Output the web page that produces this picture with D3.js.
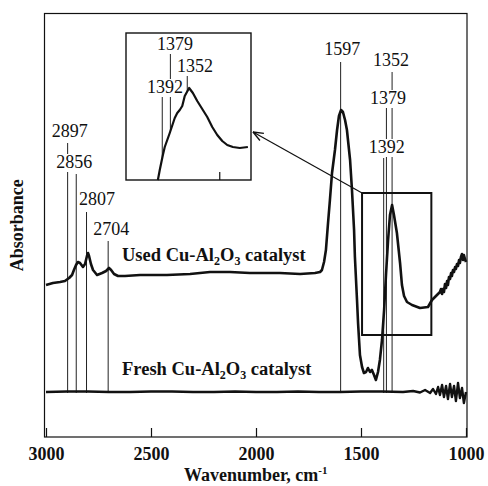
<!DOCTYPE html>
<html><head><meta charset="utf-8">
<script src="https://cdn.jsdelivr.net/npm/d3@7"></script>
<style>body{margin:0;background:#fff} svg{display:block} text{font-family:"Liberation Serif","Times New Roman",serif;fill:#111}</style>
</head><body>
<svg id="c" width="488" height="486"></svg>
<script>
// ---------- data ----------
const xTicks = [3000, 2500, 2000, 1500, 1000];
const usedWn = [3000,2967,2933,2910,2890,2876,2867,2857,2848,2838,
 2824,2814,2805,2800,2795,2786,2776,2757,2733,2714,
 2700,2690,2676,2657,2624,2552,2424,2314,2219,2124,
 2029,1886,1790,1719,1695,1686,1676,1667,1657,1648,
 1638,1624,1614,1605,1595,1586,1576,1567,1552,1543,
 1533,1529,1519,1514,1505,1495,1486,1476,1467,1457,
 1448,1438,1429,1419,1410,1400,1390,1381,1371,1362,
 1352,1343,1329,1314,1305,1295,1281,1257,1219,1181,
 1162,1143,1124,1119,1114,1110,1105,1100,1095,1090,
 1086,1081,1076,1071,1067,1062,1057,1052,1048,1043,
 1038,1033,1029,1024,1019,1014,1010,1005,1000];
const usedAbs = [1.07,1.09,1.10,1.11,1.14,1.17,1.22,1.27,1.30,1.29,
 1.25,1.28,1.36,1.39,1.36,1.28,1.22,1.17,1.19,1.21,
 1.24,1.22,1.18,1.16,1.16,1.17,1.17,1.18,1.20,1.20,
 1.19,1.19,1.18,1.19,1.20,1.22,1.30,1.42,1.69,1.92,
 2.19,2.42,2.62,2.76,2.82,2.80,2.72,2.62,2.32,2.02,
 1.62,1.35,0.92,0.69,0.37,0.25,0.19,0.20,0.24,0.20,
 0.22,0.17,0.12,0.20,0.32,0.52,0.82,1.17,1.52,1.77,
 1.87,1.77,1.59,1.29,1.07,0.96,0.90,0.87,0.84,0.85,
 0.92,0.96,1.00,1.03,0.98,1.03,1.00,1.08,1.04,1.11,
 1.07,1.15,1.13,1.19,1.16,1.22,1.20,1.25,1.23,1.28,
 1.26,1.32,1.29,1.35,1.38,1.32,1.37,1.33,1.30];
const freshWn = [3000,2900,2800,2700,2600,2500,2400,2300,2200,2100,2000,1900,1800,1700,1600,1500,1400,1300,
 1252,1219,1195,1171,1157,1143,1133,1124,1114,1105,1095,1086,1076,1067,1057,1048,1038,1029,1019,1010,1000];
const freshAbs = [0.00,0.005,0.005,0.0,0.0,0.005,0.005,0.0,0.0,0.005,0.0,0.0,0.005,0.0,0.0,0.005,0.005,0.0,
 0.01,-0.005,0.02,-0.01,0.03,-0.02,0.05,-0.03,0.07,-0.05,0.06,-0.07,0.08,-0.05,0.06,-0.09,0.09,-0.06,0.04,-0.11,0.0];
const insetWn = [1399,1396,1391,1388,1380,1372,1368,1364,1360,1356,1349,1343,1336,1328,1320,1312,1304,1296,1288,1279,1268,1255];
const insetAbs = [0.00,0.10,0.25,0.33,0.47,0.62,0.67,0.70,0.74,0.84,0.92,0.87,0.79,0.71,0.63,0.53,0.45,0.39,0.35,0.33,0.32,0.33];
const mainPeaks = [2897, 2856, 2807, 2704, 1597, 1352, 1379, 1392];
const insetPeaks = [1379, 1352, 1392];
const insetTicks = [1300];
const usedLabel = ["Used Cu-Al", "2", "O", "3", " catalyst"];
const freshLabel = ["Fresh Cu-Al", "2", "O", "3", " catalyst"];
const zoomWindow = {wn:[1495, 1165], abs:[1.99, 0.57]};

// ---------- layout ----------
const svg = d3.select("#c");
const F = {l:44.5, r:467, t:13.5, b:437};
const x = d3.scaleLinear().domain([3000,1000]).range([46,466]);
const y = d3.scaleLinear().domain([-0.45,3.78]).range([437,14]);
const ix = d3.scaleLinear().domain([1450,1250]).range([126,251]);
const iy = d3.scaleLinear().domain([0,1.47]).range([180,33]);

const peakLayout = {
  2897:{dx:2, base:137, top:143}, 2856:{dx:-2, base:168, top:174},
  2807:{dx:10.5, base:205, top:212}, 2704:{dx:3, base:235, top:241},
  1597:{dx:1.5, base:55, top:62}, 1352:{dx:-1, base:66, top:72},
  1379:{dx:1.5, base:104, top:108}, 1392:{dx:3, base:153, top:158}
};
const insetLayout = {1379:{cx:175, base:50, top:53}, 1352:{cx:195, base:72, top:75}, 1392:{cx:165, base:93, top:97}};

const used = usedWn.map((w,i)=>({w, a:usedAbs[i]}));
const fresh = freshWn.map((w,i)=>({w, a:freshAbs[i]}));
const inset = insetWn.map((w,i)=>({w, a:insetAbs[i]}));

function interp(data, w){
  for(let i=0;i<data.length-1;i++){
    const a=data[i], b=data[i+1];
    if((w<=a.w && w>=b.w)){ const t=(a.w-w)/(a.w-b.w); return a.a+t*(b.a-a.a); }
  }
  return data[0].a;
}

// frame
svg.append("rect").attr("x",F.l).attr("y",F.t).attr("width",F.r-F.l).attr("height",F.b-F.t)
  .attr("fill","none").attr("stroke","#111").attr("stroke-width",1.2);

// x axis
const ax = svg.append("g").attr("transform",`translate(0,${F.b})`)
  .call(d3.axisBottom(x).tickValues(xTicks).tickFormat(d3.format("d")).tickSizeInner(-9).tickSizeOuter(0).tickPadding(10));
ax.select(".domain").remove();
ax.selectAll("line").attr("stroke","#111").attr("stroke-width",1.2);
ax.selectAll("text").style("font-family",'"Liberation Serif",serif').style("font-size","18px").style("font-weight","bold").attr("fill","#111");

// axis titles
const xt = svg.append("text").attr("x",(F.l+F.r)/2).attr("y",481).attr("text-anchor","middle")
  .style("font-size","18px").style("font-weight","bold").text("Wavenumber, cm");
xt.append("tspan").attr("dy",-7).style("font-size","11px").text("-1");
svg.append("text").attr("transform",`translate(23,${(F.t+F.b)/2}) rotate(-90)`).attr("text-anchor","middle")
  .style("font-size","18px").style("font-weight","bold").text("Absorbance");

// peak marker lines
const y0 = y(0);
mainPeaks.forEach(p=>{
  const L = peakLayout[p];
  svg.append("line").attr("x1",x(p)).attr("x2",x(p)).attr("y1",L.top).attr("y2",y0+1)
    .attr("stroke","#222").attr("stroke-width",1);
});

// curves
const line = d3.line().x(d=>x(d.w)).y(d=>y(d.a));
svg.append("path").datum(used).attr("d",line).attr("fill","none").attr("stroke","#111").attr("stroke-width",2.6).attr("stroke-linejoin","round");
svg.append("path").datum(fresh).attr("d",line).attr("fill","none").attr("stroke","#111").attr("stroke-width",2.4).attr("stroke-linejoin","round");

// peak labels with white background
function label(g, cx, base, txt){
  const t = g.append("text").attr("x",cx).attr("y",base).attr("text-anchor","middle").style("font-size","18px").text(txt);
  const bb = t.node().getBBox();
  g.insert("rect","text:last-of-type").attr("x",bb.x-1).attr("y",base-14).attr("width",bb.width+2).attr("height",18).attr("fill","#fff");
}
mainPeaks.forEach(p=>{
  const L = peakLayout[p];
  const g = svg.append("g");
  label(g, x(p)+L.dx, L.base, String(p));
});

// series labels
function seriesLabel(parts, yb){
  const t = svg.append("text").attr("x",122).attr("y",yb).style("font-size","18.5px").style("font-weight","bold").style("white-space","pre");
  t.append("tspan").text(parts[0]);
  t.append("tspan").attr("dy",4).style("font-size","12px").text(parts[1]);
  t.append("tspan").attr("dy",-4).text(parts[2]);
  t.append("tspan").attr("dy",4).style("font-size","12px").text(parts[3]);
  t.append("tspan").attr("dy",-4).text(parts[4]);
}
seriesLabel(usedLabel, 261);
seriesLabel(freshLabel, 375);

// zoom window
svg.append("rect").attr("x",x(zoomWindow.wn[0])).attr("y",y(zoomWindow.abs[0]))
  .attr("width",x(zoomWindow.wn[1])-x(zoomWindow.wn[0])).attr("height",y(zoomWindow.abs[1])-y(zoomWindow.abs[0]))
  .attr("fill","none").attr("stroke","#111").attr("stroke-width",2);

// inset
svg.append("rect").attr("x",ix.range()[0]).attr("y",iy.range()[1]).attr("width",ix.range()[1]-ix.range()[0]).attr("height",iy.range()[0]-iy.range()[1])
  .attr("fill","#fff").attr("stroke","#111").attr("stroke-width",1.4);
insetTicks.forEach(t=>{
  svg.append("line").attr("x1",ix(t)).attr("x2",ix(t)).attr("y1",iy.range()[0]).attr("y2",iy.range()[0]-8).attr("stroke","#111").attr("stroke-width",1.2);
});
insetPeaks.forEach(p=>{
  const L = insetLayout[p];
  svg.append("line").attr("x1",ix(p)).attr("x2",ix(p)).attr("y1",L.top).attr("y2",iy(interp(inset,p)))
    .attr("stroke","#222").attr("stroke-width",1);
});
insetPeaks.forEach(p=>{
  const L = insetLayout[p];
  label(svg.append("g"), L.cx, L.base, String(p));
});
const iline = d3.line().x(d=>ix(d.w)).y(d=>iy(d.a));
svg.append("path").datum(inset).attr("d",iline).attr("fill","none").attr("stroke","#111").attr("stroke-width",2.2).attr("stroke-linejoin","round");

// arrow from zoom window to inset
const ax0 = x(zoomWindow.wn[0]), ay0 = y(zoomWindow.abs[0]);
const ax1 = ix.range()[1]+2, ay1 = iy(0.48);
svg.append("line").attr("x1",ax0).attr("y1",ay0).attr("x2",ax1).attr("y2",ay1).attr("stroke","#111").attr("stroke-width",1.2);
const ang = Math.atan2(ay0-ay1, ax0-ax1);
[0.38,-0.38].forEach(da=>{
  svg.append("line").attr("x1",ax1).attr("y1",ay1)
    .attr("x2",ax1+11*Math.cos(ang+da)).attr("y2",ay1+11*Math.sin(ang+da))
    .attr("stroke","#111").attr("stroke-width",1.4);
});
</script>
</body></html>
